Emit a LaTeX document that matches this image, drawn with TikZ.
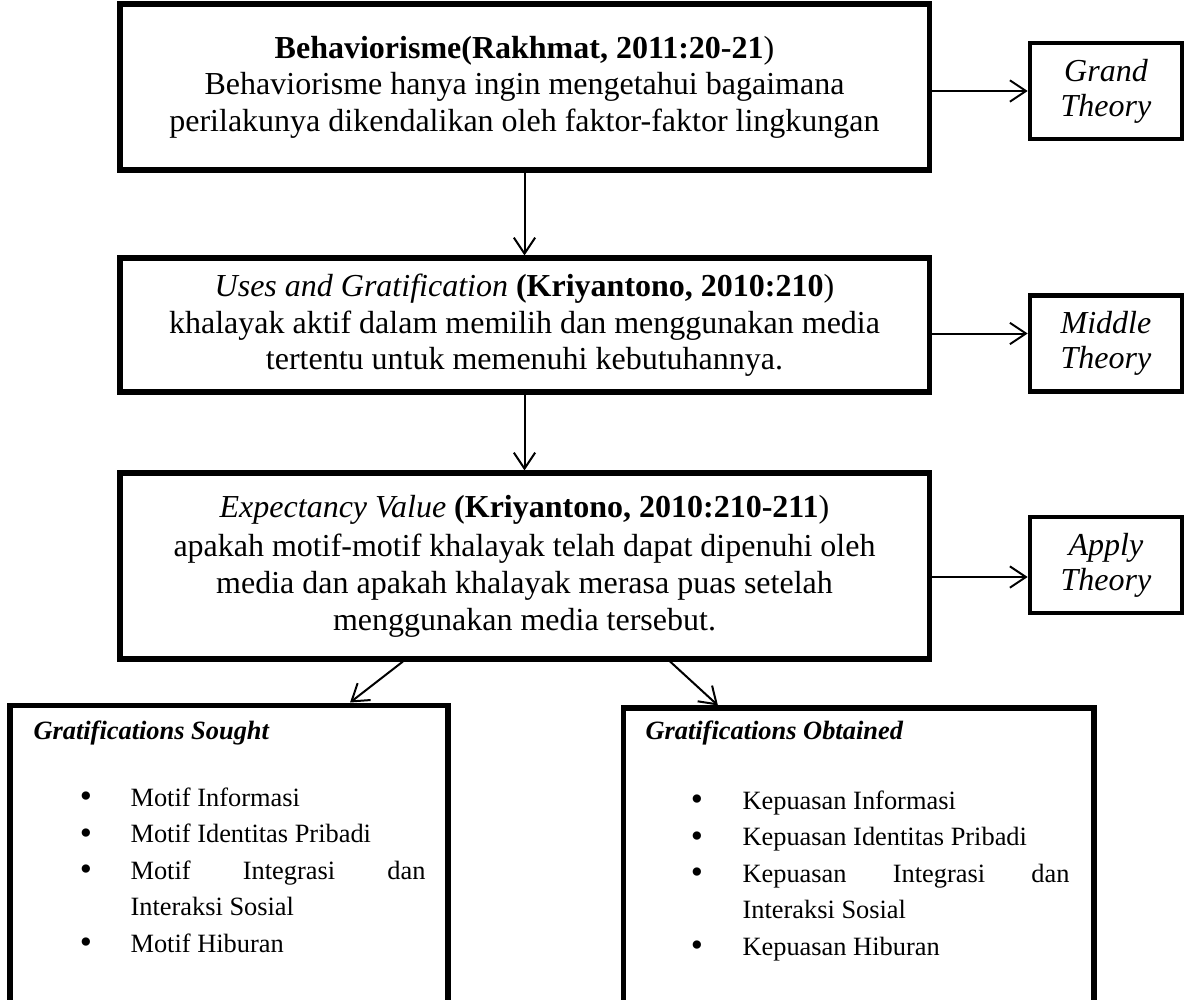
\documentclass[tikz,border=0pt]{standalone}
\usepackage{fontspec}
\setmainfont{Liberation Serif}
\usetikzlibrary{arrows.meta}
\tikzset{
  bigbox/.style={draw, line width=1.9pt, inner sep=0pt, align=center,
    minimum width=303.4pt, font=\fontsize{12}{13.7}\selectfont},
  smallbox/.style={draw, line width=1.7pt, inner sep=0pt, align=center,
    minimum width=57pt, minimum height=36pt, font=\fontsize{12}{13.1}\selectfont\itshape},
  lowbox/.style={draw, line width=1.9pt, inner sep=0pt},
  arr/.style={line width=0.75pt, -{Straight Barb[length=6pt,width=8pt,line width=0.75pt]}},
  lowtitle/.style={inner sep=0pt, anchor=west, font=\fontsize{9.9}{13}\selectfont\bfseries\itshape},
  item/.style={inner sep=0pt, anchor=base west, font=\fontsize{9.9}{13}\selectfont},
  bul/.style={inner sep=0pt, anchor=base, font=\fontsize{13}{13}\selectfont, yshift=-0.6pt},
}
\begin{document}
\begin{tikzpicture}[x=0.375pt,y=-0.375pt]
\useasboundingbox (0,0) rectangle (1194,1000);
\clip (0,0) rectangle (1194,1000);

% main boxes
\node[bigbox, minimum height=62.25pt] (b1) at (524.5,87)
  {\textbf{Behaviorisme(Rakhmat, 2011:20-21})\\
   Behaviorisme hanya ingin mengetahui bagaimana\\
   perilakunya dikendalikan oleh faktor-faktor lingkungan};
\node[bigbox, minimum height=50.25pt, text depth=2.2pt] (b2) at (524.5,325)
  {\textit{Uses and Gratification} \textbf{(Kriyantono, 2010:210})\\
   khalayak aktif dalam memilih dan menggunakan media\\
   tertentu untuk memenuhi kebutuhannya.};
\node[bigbox, minimum height=69.75pt] (b3) at (524.5,566)
  {\textit{Expectancy Value} \textbf{(Kriyantono, 2010:210-211})\\[1.2pt]
   apakah motif-motif khalayak telah dapat dipenuhi oleh\\
   media dan apakah khalayak merasa puas setelah\\
   menggunakan media tersebut.};

% side boxes
\node[smallbox] (grand) at (1106,91) {Grand\\Theory};
\node[smallbox] (middle) at (1106,343.5) {Middle\\Theory};
\node[smallbox] (apply) at (1106,565) {Apply\\Theory};

% bottom boxes
\node[lowbox, minimum width=164.25pt, minimum height=112.1pt] (lb) at (229,854.5) {};
\node[lowbox, minimum width=176.6pt, minimum height=111pt] (rb) at (858.5,856) {};

% connectors
\draw[arr] (b1.south) -- (b2.north);
\draw[arr] (b2.south) -- (b3.north);
\draw[arr] (grand.west -| b1.east) -- (grand.west);
\draw[arr] ([yshift=3.75pt]middle.west -| b2.east) -- ([yshift=3.75pt]middle.west);
\draw[arr] ([yshift=-4.5pt]apply.west -| b3.east) -- ([yshift=-4.5pt]apply.west);
\draw[arr] ([xshift=-45.6pt]b3.south) -- ([xshift=45.4pt]lb.north);
\draw[arr] ([xshift=54.6pt]b3.south) -- ([xshift=-52.7pt]rb.north);

% left box contents
\node[lowtitle] (lt) at (33,733) {Gratifications Sought};
\node[bul] (lb1) at (86,806) {\textbullet};
\node[item] (li1) at (130,806) {Motif Informasi};
\node[bul] (lb2) at (86,842.5) {\textbullet};
\node[item] (li2) at (130,842.5) {Motif Identitas Pribadi};
\node[bul] (lb3) at (86,879) {\textbullet};
\node[item] (li3) at (130,879) {\hbox to 110.6pt{Motif\hfill Integrasi\hfill dan}};
\node[item] (li3b) at (130,915.5) {Interaksi Sosial};
\node[bul] (lb4) at (86,952) {\textbullet};
\node[item] (li4) at (130,952) {Motif Hiburan};

% right box contents
\node[lowtitle] (rt) at (645,733) {Gratifications Obtained};
\node[bul] (rb1) at (697,809) {\textbullet};
\node[item] (ri1) at (742,809) {Kepuasan Informasi};
\node[bul] (rb2) at (697,845.5) {\textbullet};
\node[item] (ri2) at (742,845.5) {Kepuasan Identitas Pribadi};
\node[bul] (rb3) at (697,882) {\textbullet};
\node[item] (ri3) at (742,882) {\hbox to 122.6pt{Kepuasan\hfill Integrasi\hfill dan}};
\node[item] (ri3b) at (742,918.5) {Interaksi Sosial};
\node[bul] (rb4) at (697,955) {\textbullet};
\node[item] (ri4) at (742,955) {Kepuasan Hiburan};
\end{tikzpicture}
\end{document}
